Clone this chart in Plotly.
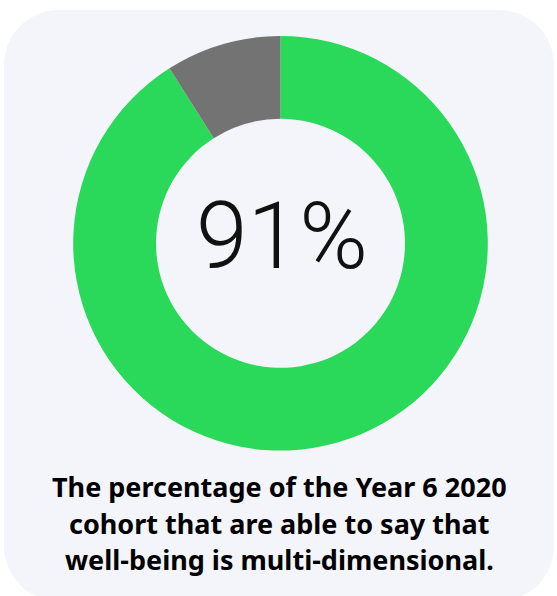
import plotly.graph_objects as go

# Share of the Year 6 2020 cohort
labels = ["Able to say well-being is multi-dimensional", "Other"]
values = [91, 9]
colors = ["#2bd95a", "#737373"]
headline = "91%"
caption_lines = [
    "The percentage of the Year 6 2020",
    "cohort that are able to say that",
    "well-being is multi-dimensional.",
]

W, H = 557, 596

# ring geometry in pixels
cx, cy, r_out, r_in = 280.5, 243.3, 207.3, 124.5


def px(x):
    return x / W


def py(y):
    return 1 - y / H


fig = go.Figure(
    go.Pie(
        labels=labels,
        values=values,
        hole=r_in / r_out,
        sort=False,
        direction="clockwise",
        rotation=0,
        marker=dict(colors=colors, line=dict(width=0)),
        textinfo="none",
        hoverinfo="label+percent",
        domain=dict(
            x=[px(cx - r_out), px(cx + r_out)],
            y=[py(cy + r_out), py(cy - r_out)],
        ),
        showlegend=False,
    )
)

# rounded card behind the chart
L, R, T, B, rad = 4, 554, 10, 601, 55
k = 0.5523 * rad
path = (
    f"M {px(L + rad)} {py(T)} L {px(R - rad)} {py(T)} "
    f"C {px(R - rad + k)} {py(T)} {px(R)} {py(T + rad - k)} {px(R)} {py(T + rad)} "
    f"L {px(R)} {py(B - rad)} "
    f"C {px(R)} {py(B - rad + k)} {px(R - rad + k)} {py(B)} {px(R - rad)} {py(B)} "
    f"L {px(L + rad)} {py(B)} "
    f"C {px(L + rad - k)} {py(B)} {px(L)} {py(B - rad + k)} {px(L)} {py(B - rad)} "
    f"L {px(L)} {py(T + rad)} "
    f"C {px(L)} {py(T + rad - k)} {px(L + rad - k)} {py(T)} {px(L + rad)} {py(T)} Z"
)
fig.add_shape(
    type="path", path=path, xref="paper", yref="paper",
    fillcolor="#f4f5fa", line=dict(width=0), layer="below",
)

fig.add_annotation(
    text=headline, x=px(282), y=py(236), xref="paper", yref="paper",
    showarrow=False, xanchor="center", yanchor="middle",
    font=dict(family="Roboto", size=93, color="#111111", weight=300),
)

line_y = [486, 523, 559]
for txt, yy in zip(caption_lines, line_y):
    fig.add_annotation(
        text=txt, x=px(279), y=py(yy), xref="paper", yref="paper",
        showarrow=False, xanchor="center", yanchor="middle",
        font=dict(family="Noto Sans", size=27, color="#000000", weight="bold"),
    )

fig.update_layout(
    width=W, height=H,
    margin=dict(l=0, r=0, t=0, b=0),
    paper_bgcolor="#ffffff", plot_bgcolor="#ffffff",
)

fig.write_html("out.html")
